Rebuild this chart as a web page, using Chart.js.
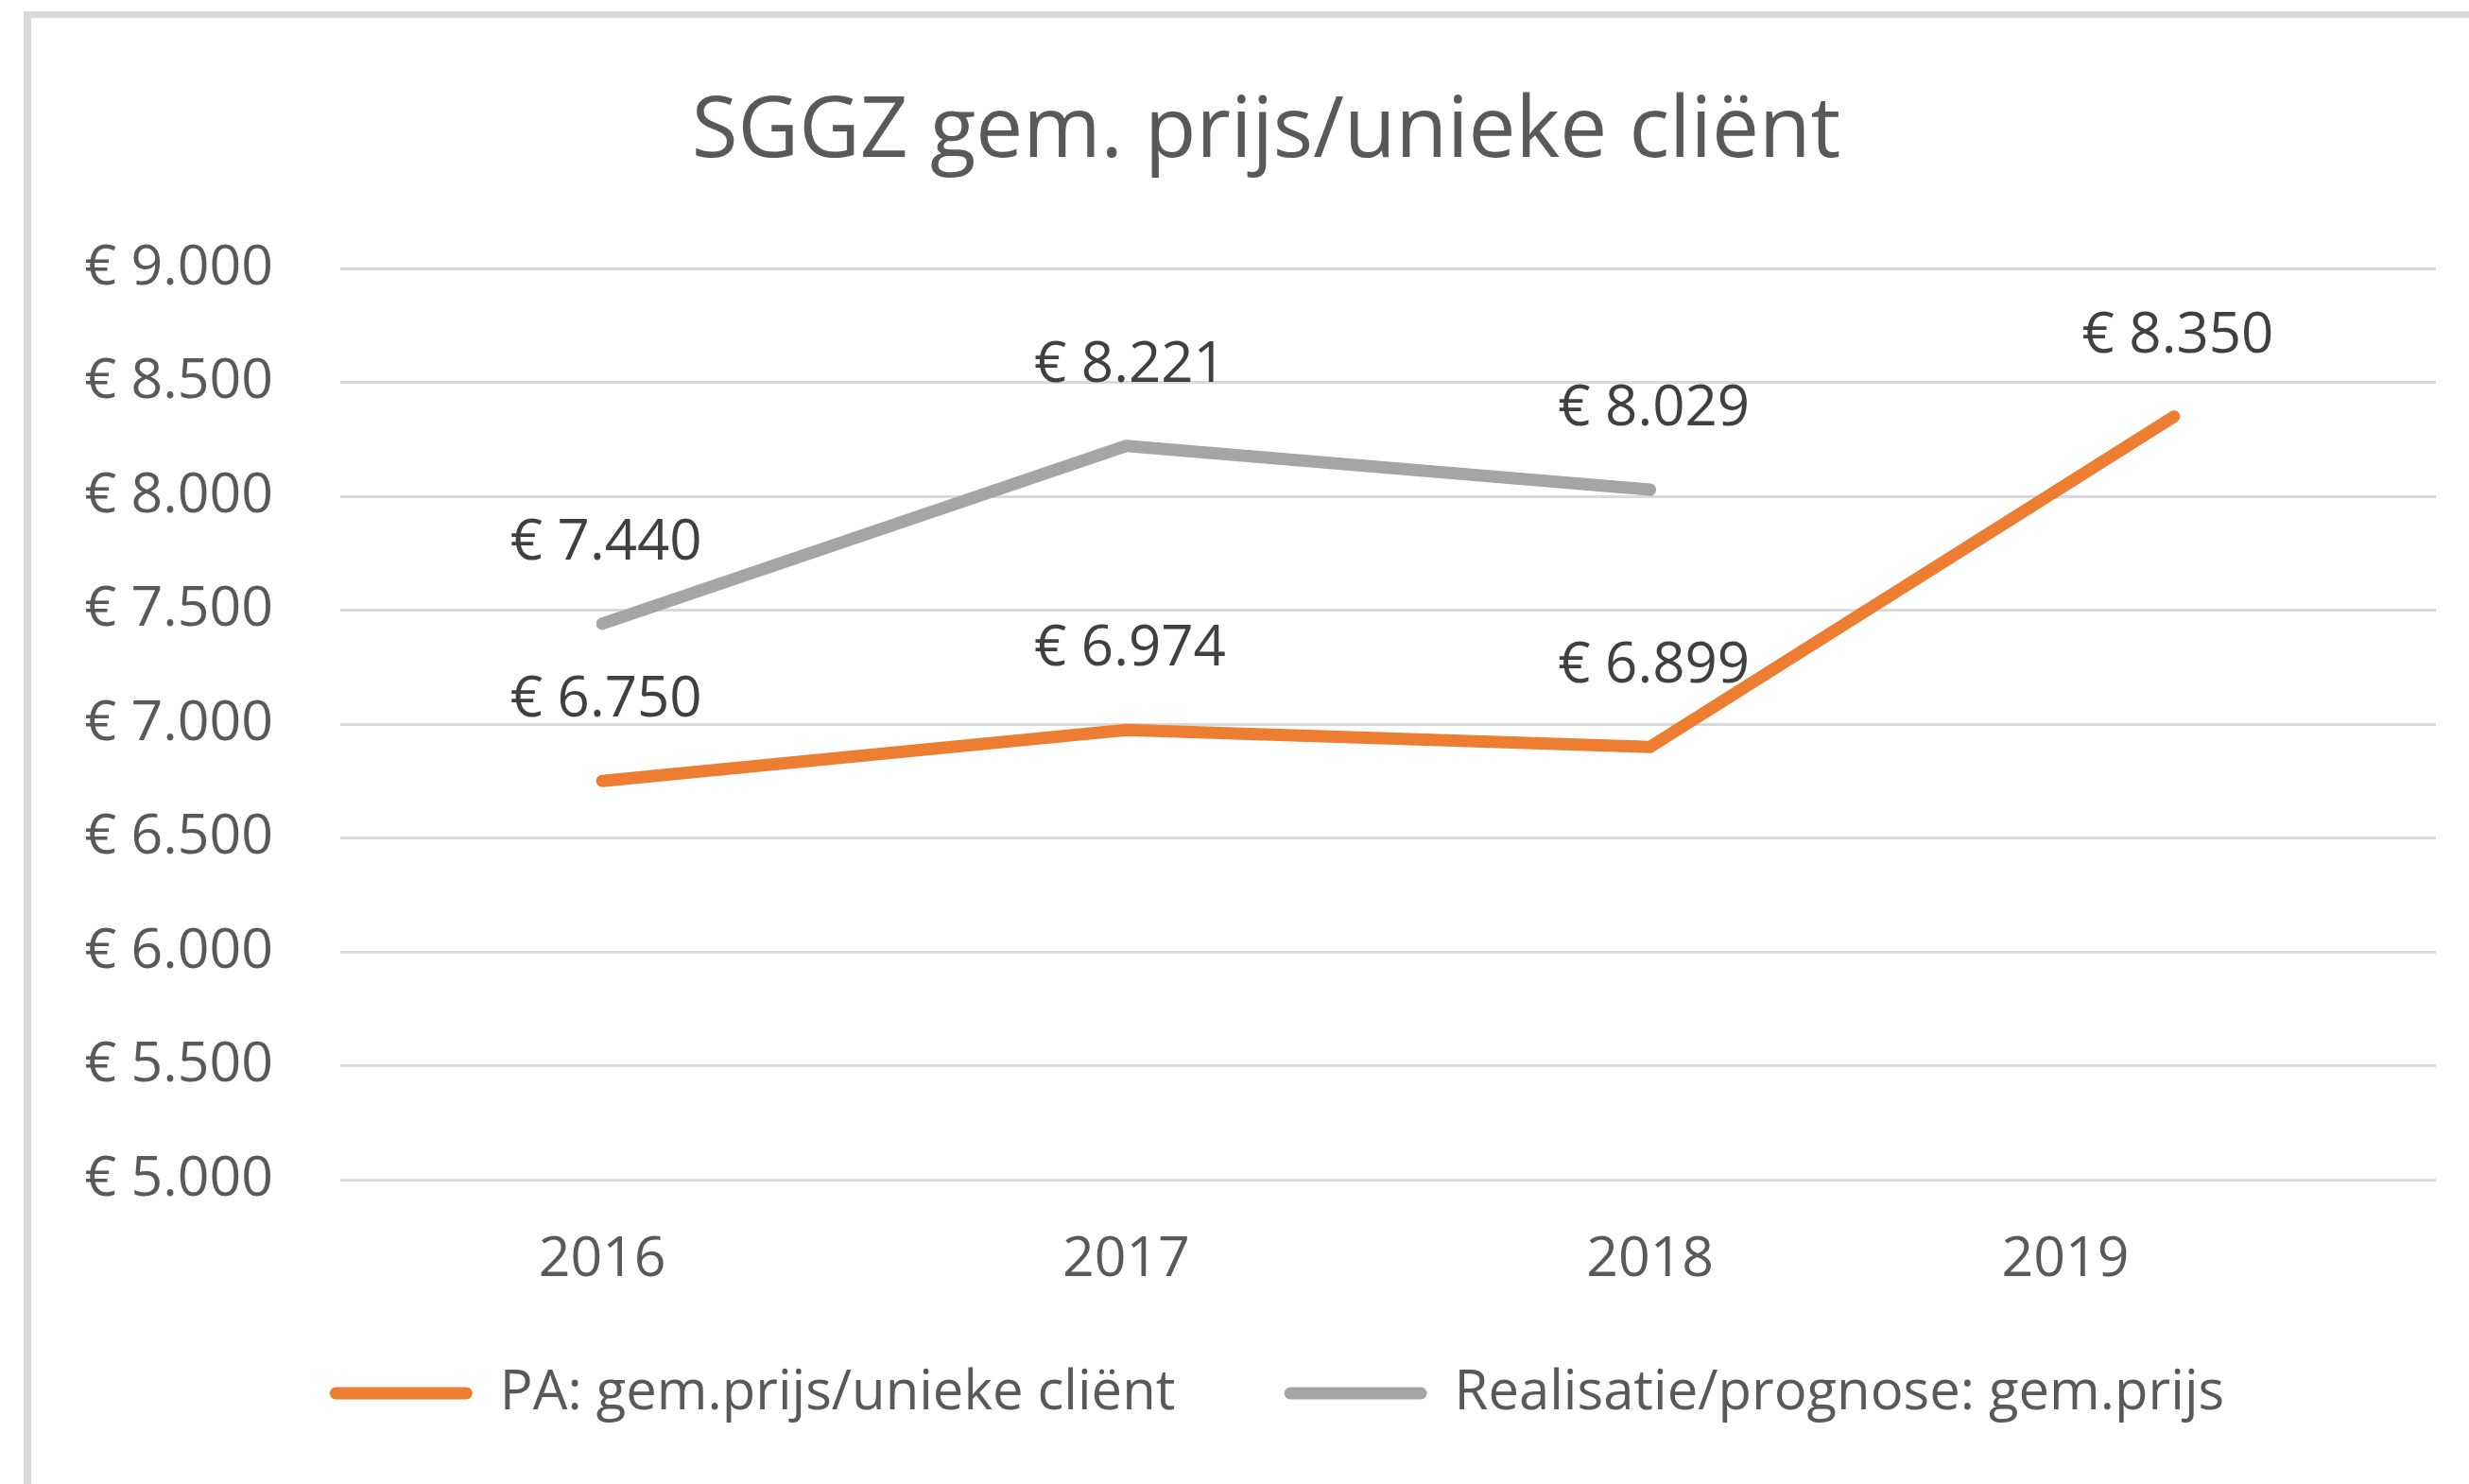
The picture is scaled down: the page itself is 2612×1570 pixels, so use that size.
<!DOCTYPE html>
<html><head><meta charset="utf-8">
<script src="https://cdn.jsdelivr.net/npm/chart.js@4.4.1/dist/chart.umd.min.js"></script>
<style>
html,body{margin:0;padding:0;background:#fff;overflow:hidden;}
#frame{position:absolute;left:25px;top:12px;width:4000px;height:4000px;border-left:8px solid #D9D9D9;border-top:7px solid #D9D9D9;}
#wrap{position:absolute;left:0;top:0;width:2612px;height:1570px;}
</style></head><body>
<div id="frame"></div>
<div id="wrap"><canvas id="c" width="2612" height="1570"></canvas></div>
<script>
const categories = ['2016', '2017', '2018', '2019'];
const paValues = [6750, 6974, 6899, 8350];
const realisatieValues = [7440, 8221, 8029, null];
const seriesNames = ['PA: gem.prijs/unieke cliënt', 'Realisatie/prognose: gem.prijs'];
const titleText = 'SGGZ gem. prijs/unieke cliënt';
const yMin = 5000, yMax = 9000, yStep = 500;

const fmt = v => '€ ' + String(v).replace(/\B(?=(\d{3})+(?!\d))/g, '.');

const FONT = "'Open Sans'";
Chart.defaults.font.family = FONT;
Chart.defaults.color = '#595959';

const dataLabelPlugin = {
  id: 'valueLabels',
  afterDatasetsDraw(chart) {
    const ctx = chart.ctx;
    ctx.save();
    ctx.font = "60px " + FONT;
    ctx.fillStyle = '#404040';
    ctx.textAlign = 'center';
    ctx.textBaseline = 'middle';
    chart.data.datasets.forEach((ds, i) => {
      const meta = chart.getDatasetMeta(i);
      meta.data.forEach((el, j) => {
        const v = ds.data[j];
        if (v === null || v === undefined) return;
        ctx.fillText(fmt(v), el.x + 4, el.y - 85);
      });
    });
    ctx.restore();
  }
};

new Chart(document.getElementById('c'), {
  type: 'line',
  data: {
    labels: categories,
    datasets: [
      { label: seriesNames[0], data: paValues, borderColor: '#ED7D31', backgroundColor: '#ED7D31',
        borderWidth: 13, pointRadius: 0, borderCapStyle: 'round', borderJoinStyle: 'round', tension: 0, fill: false },
      { label: seriesNames[1], data: realisatieValues, borderColor: '#A5A5A5', backgroundColor: '#A5A5A5',
        borderWidth: 13, pointRadius: 0, borderCapStyle: 'round', borderJoinStyle: 'round', tension: 0, fill: false }
    ]
  },
  options: {
    responsive: false,
    animation: false,
    devicePixelRatio: 1,
    layout: { padding: { left: 90, right: 0, top: 0, bottom: 57 } },
    plugins: {
      title: { display: true, text: titleText + '\u00A0', color: '#595959',
        font: { size: 89, weight: 'normal' }, padding: { top: 87.6, bottom: 89.6 } },
      legend: {
        position: 'bottom',
        labels: {
          boxWidth: 151, boxHeight: 13, padding: 70, color: '#595959',
          font: { size: 58 }, useBorderRadius: true,
          generateLabels(chart) {
            const items = Chart.defaults.plugins.legend.labels.generateLabels(chart);
            items.forEach((it, i) => {
              it.lineWidth = 0; it.fillStyle = it.strokeStyle; it.borderRadius = 6.5;
              if (i === 0) it.text = it.text + '\u00A0\u00A0\u00A0';
            });
            return items;
          }
        }
      },
      tooltip: { enabled: false }
    },
    scales: {
      x: {
        offset: true,
        grid: { display: false, drawTicks: false },
        border: { display: false },
        ticks: {
          padding: 50, font: { size: 59 }, color: '#595959',
          callback(value, index, ticks) {
            const lbl = this.getLabelForValue(value);
            return index === ticks.length - 1 ? lbl + '\u00A0'.repeat(15) : lbl;
          }
        },
        afterFit(s) { s.height = 127; }
      },
      y: {
        min: yMin, max: yMax,
        ticks: { stepSize: yStep, padding: 71, font: { size: 59 }, color: '#595959', callback: v => fmt(v) },
        grid: { color: '#D9D9D9', lineWidth: 3, drawTicks: false },
        border: { display: false },
        afterFit(s) { s.width = 270; }
      },
      yRight: {
        position: 'right',
        grid: { display: false, drawTicks: false },
        ticks: { display: false },
        border: { display: false },
        afterFit(s) { s.width = 35; }
      }
    }
  },
  plugins: [dataLabelPlugin]
});
</script>
</body></html>
